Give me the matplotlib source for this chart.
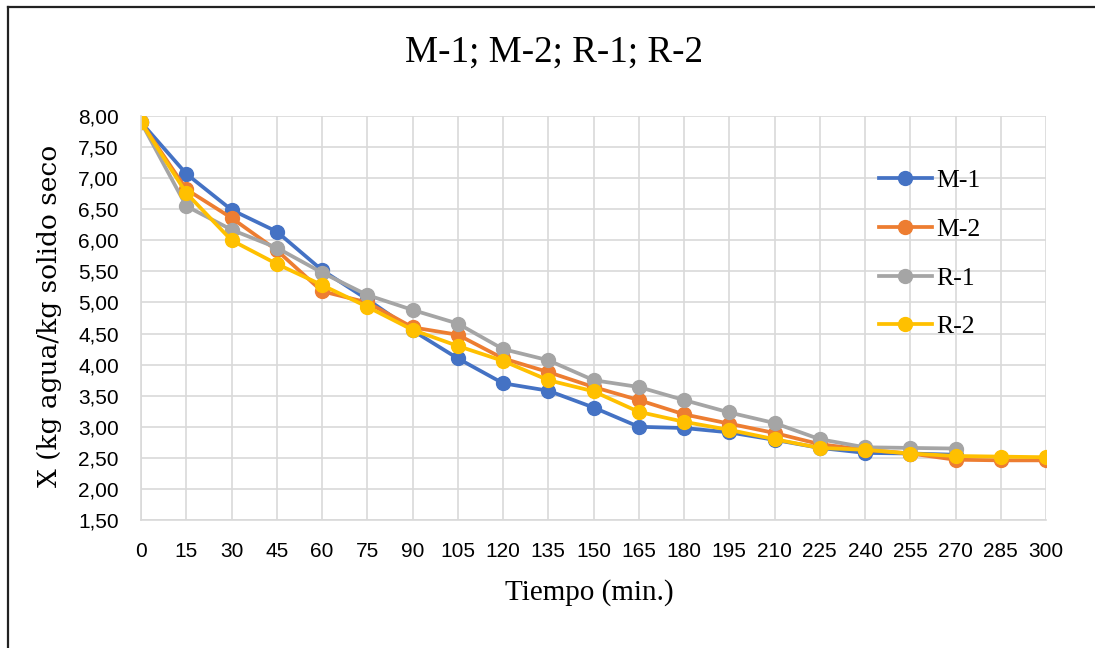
import matplotlib.pyplot as plt
from matplotlib.lines import Line2D
from matplotlib.ticker import FuncFormatter

# tiempo de secado (min) y humedad X de cada muestra
tiempo = list(range(0, 301, 15))
m1 = [7.90, 7.07, 6.49, 6.14, 5.52, 5.05, 4.55, 4.10, 3.70, 3.58, 3.31,
      3.00, 2.98, 2.91, 2.79, 2.66, 2.58, 2.57, 2.55]
m2 = [7.90, 6.82, 6.36, 5.84, 5.18, 5.00, 4.60, 4.48, 4.10, 3.88, 3.64,
      3.43, 3.20, 3.05, 2.90, 2.72, 2.63, 2.57, 2.47, 2.46, 2.46]
r1 = [7.90, 6.55, 6.17, 5.88, 5.48, 5.12, 4.88, 4.66, 4.25, 4.07, 3.75,
      3.64, 3.43, 3.23, 3.06, 2.80, 2.67, 2.66, 2.65]
r2 = [7.90, 6.76, 6.00, 5.62, 5.28, 4.93, 4.56, 4.30, 4.06, 3.75, 3.57,
      3.24, 3.08, 2.95, 2.80, 2.66, 2.63, 2.57, 2.53, 2.52, 2.51]

series = [("M-1", m1, "#4472C4"), ("M-2", m2, "#ED7D31"),
          ("R-1", r1, "#A5A5A5"), ("R-2", r2, "#FFC000")]

serif = ["Liberation Serif", "DejaVu Serif"]
tickfont = ["Liberation Sans", "DejaVu Sans"]

fig = plt.figure(figsize=(10.95, 6.48), dpi=100)
ax = fig.add_axes([0.1288, 0.1975, 0.8265, 0.6235])

for name, vals, col in series:
    ax.plot(tiempo[:len(vals)], vals, color=col, lw=2.7, marker="o",
            markersize=10, label=name, solid_joinstyle="round")

ax.set_xlim(0, 300)
ax.set_ylim(1.5, 8.0)
ax.set_xticks(tiempo)
ax.set_yticks([1.5 + 0.5 * i for i in range(14)])
ax.yaxis.set_major_formatter(FuncFormatter(lambda v, p: f"{v:.2f}".replace(".", ",")))
ax.grid(True, color="#d9d9d9", lw=1.2)
ax.set_axisbelow(True)
for s in ["top", "right"]:
    ax.spines[s].set_visible(False)
for s in ["left", "bottom"]:
    ax.spines[s].set_color("#d9d9d9")
    ax.spines[s].set_linewidth(1.2)
ax.tick_params(length=0, labelsize=15, colors="black")
ax.tick_params(axis="y", pad=16)
ax.tick_params(axis="x", pad=16)
for lab in ax.get_xticklabels() + ax.get_yticklabels():
    lab.set_fontfamily(tickfont)

fig.text(554 / 1095, 1 - 52 / 648, "M-1; M-2; R-1; R-2", ha="center", va="center",
         fontsize=26.7, family=serif)
fig.text(589 / 1095, 1 - 593 / 648, "Tiempo (min.)", ha="center", va="center",
         fontsize=21, family=serif)
fig.text(50 / 1095, 1 - 316 / 648, "X (kg agua/kg solido seco", ha="center",
         va="center", rotation=90, fontsize=19, family=["DejaVu Serif"])

leg = ax.legend(loc="upper left", bbox_to_anchor=(0.815, 0.868), frameon=False,
                prop={"family": serif, "size": 18.5}, handlelength=2.06,
                handletextpad=0.2, labelspacing=1.0, borderaxespad=0, borderpad=0)

# marco del grafico
fig.add_artist(Line2D([8 / 1095, 1], [1 - 7 / 648] * 2, color="#222222", lw=1.6))
fig.add_artist(Line2D([8 / 1095] * 2, [0, 1 - 7 / 648], color="#222222", lw=1.6))

fig.savefig("out.png", dpi=100)
